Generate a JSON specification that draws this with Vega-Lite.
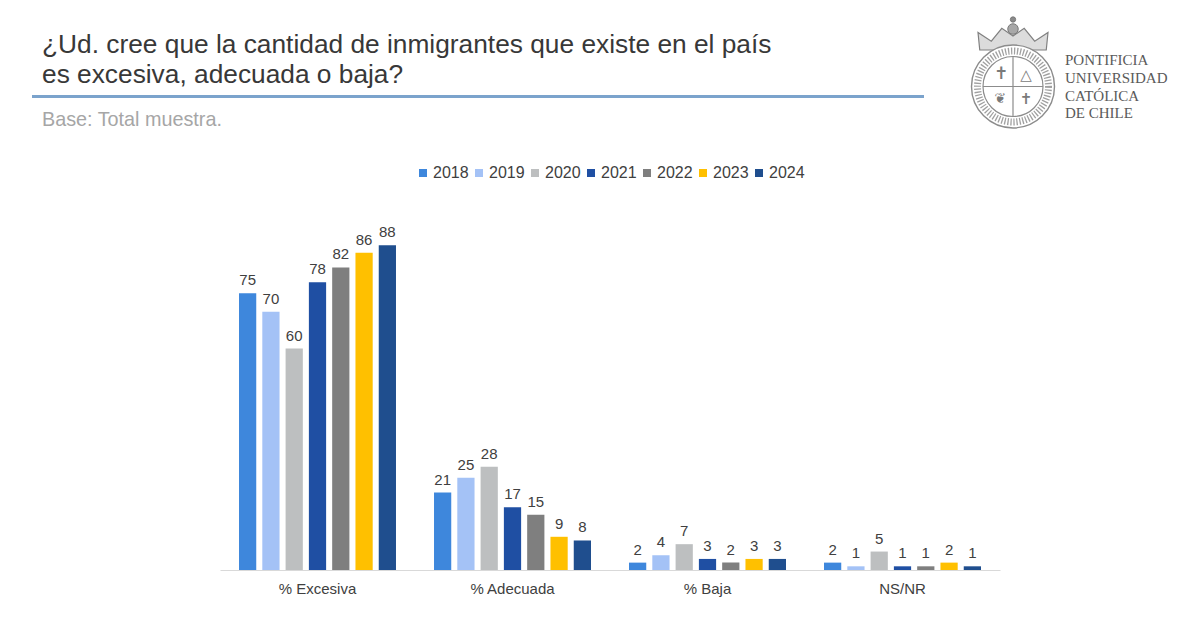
{
  "$schema": "https://vega.github.io/schema/vega-lite/v6.json",
  "background": "white",
  "padding": {"left": 30, "top": 12, "right": 0, "bottom": 0},
  "autosize": {"type": "pad"},
  "bounds": "flush",
  "center": true,
  "spacing": 70,
  "resolve": {"scale": {"color": "independent"}, "legend": {"color": "independent"}},
  "config": {
    "view": {"stroke": "transparent"},
    "font": "Liberation Sans",
    "legend": {"layout": {"top": {"anchor": "middle"}}}
  },
  "vconcat": [
    {
      "width": 1156,
      "height": 118,
      "data": {"values": [{}]},
      "layer": [
        {
          "mark": {"type": "text", "align": "left", "baseline": "alphabetic", "fontSize": 26.3, "lineHeight": 30, "color": "#383838",
            "text": ["¿Ud. cree que la cantidad de inmigrantes que existe en el país", "es excesiva, adecuada o baja?"]},
          "encoding": {
            "x": {"datum": 40, "type": "quantitative", "scale": {"domain": [30, 1186], "zero": false, "nice": false}, "axis": null},
            "y": {"datum": 51.5, "type": "quantitative", "scale": {"domain": [12, 130], "zero": false, "nice": false, "reverse": true}, "axis": null}
          }
        },
        {
          "mark": {"type": "rule", "stroke": "#7ba3cc", "strokeWidth": 3},
          "encoding": {
            "x": {"datum": 30, "type": "quantitative"},
            "x2": {"datum": 922},
            "y": {"datum": 95.5, "type": "quantitative"}
          }
        },
        {
          "mark": {"type": "text", "align": "left", "baseline": "alphabetic", "fontSize": 19.8, "color": "#a6a6a6", "text": "Base: Total muestra."},
          "encoding": {
            "x": {"datum": 40, "type": "quantitative"},
            "y": {"datum": 124.5, "type": "quantitative"}
          }
        },
        {
          "mark": {"type": "point", "shape": "M-0.95,0.2L-1,-0.3L-0.62,-0.05L-0.32,-0.42L0,-0.2L0.32,-0.42L0.62,-0.05L1,-0.3L0.95,0.2Z", "size": 4900, "filled": true, "fill": "#dcdcdc", "stroke": "#808080", "strokeWidth": 1.2, "opacity": 1},
          "encoding": {
            "x": {"datum": 1011, "type": "quantitative"},
            "y": {"datum": 42, "type": "quantitative"}
          }
        },
        {
          "mark": {"type": "point", "shape": "circle", "size": 110, "filled": true, "fill": "#a8a8a8", "stroke": "#7a7a7a", "strokeWidth": 1, "opacity": 1},
          "encoding": {
            "x": {"datum": 1011, "type": "quantitative"},
            "y": {"datum": 28, "type": "quantitative"}
          }
        },
        {
          "mark": {"type": "point", "shape": "circle", "size": 28, "filled": true, "fill": "#8a8a8a", "stroke": "#7a7a7a", "strokeWidth": 1, "opacity": 1},
          "encoding": {
            "x": {"datum": 1011, "type": "quantitative"},
            "y": {"datum": 18.5, "type": "quantitative"}
          }
        },
        {
          "mark": {"type": "point", "shape": "circle", "size": 6889, "filled": true, "fill": "white", "stroke": "#8c8c8c", "strokeWidth": 1.4, "opacity": 1},
          "encoding": {
            "x": {"datum": 1011, "type": "quantitative"},
            "y": {"datum": 85.5, "type": "quantitative"}
          }
        },
        {
          "mark": {"type": "point", "shape": "circle", "size": 5041, "filled": false, "stroke": "#a0a0a0", "strokeWidth": 7, "strokeDash": [1.3, 1.7], "opacity": 1},
          "encoding": {
            "x": {"datum": 1011, "type": "quantitative"},
            "y": {"datum": 85.5, "type": "quantitative"}
          }
        },
        {
          "mark": {"type": "point", "shape": "circle", "size": 3600, "filled": false, "stroke": "#8c8c8c", "strokeWidth": 1.2, "opacity": 1},
          "encoding": {
            "x": {"datum": 1011, "type": "quantitative"},
            "y": {"datum": 85.5, "type": "quantitative"}
          }
        },
        {
          "mark": {"type": "point", "shape": "M0,-1V1M-1,0H1", "size": 3600, "filled": false, "stroke": "#8c8c8c", "strokeWidth": 1.2, "opacity": 1},
          "encoding": {
            "x": {"datum": 1011, "type": "quantitative"},
            "y": {"datum": 85.5, "type": "quantitative"}
          }
        },
        {
          "mark": {"type": "text", "font": "DejaVu Sans", "fontSize": 17, "color": "#7a7a7a", "baseline": "middle", "text": "✝"},
          "encoding": {
            "x": {"datum": 999, "type": "quantitative"},
            "y": {"datum": 73, "type": "quantitative"}
          }
        },
        {
          "mark": {"type": "text", "font": "DejaVu Sans", "fontSize": 15, "color": "#7a7a7a", "baseline": "middle", "text": "△"},
          "encoding": {
            "x": {"datum": 1024, "type": "quantitative"},
            "y": {"datum": 74, "type": "quantitative"}
          }
        },
        {
          "mark": {"type": "text", "font": "DejaVu Sans", "fontSize": 14, "color": "#7a7a7a", "baseline": "middle", "text": "❦"},
          "encoding": {
            "x": {"datum": 998, "type": "quantitative"},
            "y": {"datum": 98, "type": "quantitative"}
          }
        },
        {
          "mark": {"type": "text", "font": "DejaVu Sans", "fontSize": 15, "color": "#7a7a7a", "baseline": "middle", "text": "✝"},
          "encoding": {
            "x": {"datum": 1024, "type": "quantitative"},
            "y": {"datum": 98, "type": "quantitative"}
          }
        },
        {
          "mark": {"type": "text", "align": "left", "baseline": "alphabetic", "font": "Liberation Serif", "fontSize": 15, "lineHeight": 17.8, "color": "#5a5a5a",
            "text": ["PONTIFICIA", "UNIVERSIDAD", "CATÓLICA", "DE CHILE"]},
          "encoding": {
            "x": {"datum": 1063, "type": "quantitative"},
            "y": {"datum": 64, "type": "quantitative"}
          }
        }
      ]
    },
    {
      "width": 780,
      "height": 369,
      "data": {
        "values": [
          {"respuesta": "% Excesiva", "año": "2018", "valor": 75},
          {"respuesta": "% Excesiva", "año": "2019", "valor": 70},
          {"respuesta": "% Excesiva", "año": "2020", "valor": 60},
          {"respuesta": "% Excesiva", "año": "2021", "valor": 78},
          {"respuesta": "% Excesiva", "año": "2022", "valor": 82},
          {"respuesta": "% Excesiva", "año": "2023", "valor": 86},
          {"respuesta": "% Excesiva", "año": "2024", "valor": 88},
          {"respuesta": "% Adecuada", "año": "2018", "valor": 21},
          {"respuesta": "% Adecuada", "año": "2019", "valor": 25},
          {"respuesta": "% Adecuada", "año": "2020", "valor": 28},
          {"respuesta": "% Adecuada", "año": "2021", "valor": 17},
          {"respuesta": "% Adecuada", "año": "2022", "valor": 15},
          {"respuesta": "% Adecuada", "año": "2023", "valor": 9},
          {"respuesta": "% Adecuada", "año": "2024", "valor": 8},
          {"respuesta": "% Baja", "año": "2018", "valor": 2},
          {"respuesta": "% Baja", "año": "2019", "valor": 4},
          {"respuesta": "% Baja", "año": "2020", "valor": 7},
          {"respuesta": "% Baja", "año": "2021", "valor": 3},
          {"respuesta": "% Baja", "año": "2022", "valor": 2},
          {"respuesta": "% Baja", "año": "2023", "valor": 3},
          {"respuesta": "% Baja", "año": "2024", "valor": 3},
          {"respuesta": "NS/NR", "año": "2018", "valor": 2},
          {"respuesta": "NS/NR", "año": "2019", "valor": 1},
          {"respuesta": "NS/NR", "año": "2020", "valor": 5},
          {"respuesta": "NS/NR", "año": "2021", "valor": 1},
          {"respuesta": "NS/NR", "año": "2022", "valor": 1},
          {"respuesta": "NS/NR", "año": "2023", "valor": 2},
          {"respuesta": "NS/NR", "año": "2024", "valor": 1}
        ]
      },
      "encoding": {
        "x": {
          "field": "respuesta", "type": "nominal", "sort": null,
          "scale": {"paddingInner": 0.195, "paddingOuter": 0.0975},
          "axis": {"title": null, "labelAngle": 0, "labelFontSize": 15, "labelColor": "#404040", "labelPadding": 11, "ticks": false, "domainColor": "#d9d9d9", "domainWidth": 1}
        },
        "xOffset": {"field": "año", "type": "nominal", "sort": null, "scale": {"paddingInner": 0.26, "paddingOuter": 0}},
        "y": {"field": "valor", "type": "quantitative", "scale": {"domain": [0, 100], "nice": false}, "axis": null}
      },
      "layer": [
        {
          "mark": {"type": "bar"},
          "encoding": {
            "color": {
              "field": "año", "type": "nominal", "sort": null,
              "scale": {"domain": ["2018", "2019", "2020", "2021", "2022", "2023", "2024"],
                "range": ["#3e87dc", "#a4c2f6", "#bdbfc0", "#1f4fa3", "#7f7f7f", "#ffc000", "#1f4e8e"]},
              "legend": {"orient": "top", "direction": "horizontal", "title": null, "symbolType": "square", "symbolSize": 64, "symbolStrokeWidth": 0, "labelFontSize": 16, "labelColor": "#404040", "labelOffset": 2, "columnPadding": 2, "offset": 20}
            }
          }
        },
        {
          "mark": {"type": "text", "baseline": "alphabetic", "dy": -8, "fontSize": 15, "color": "#404040"},
          "encoding": {"text": {"field": "valor", "type": "quantitative", "format": "d"}}
        }
      ]
    }
  ]
}
